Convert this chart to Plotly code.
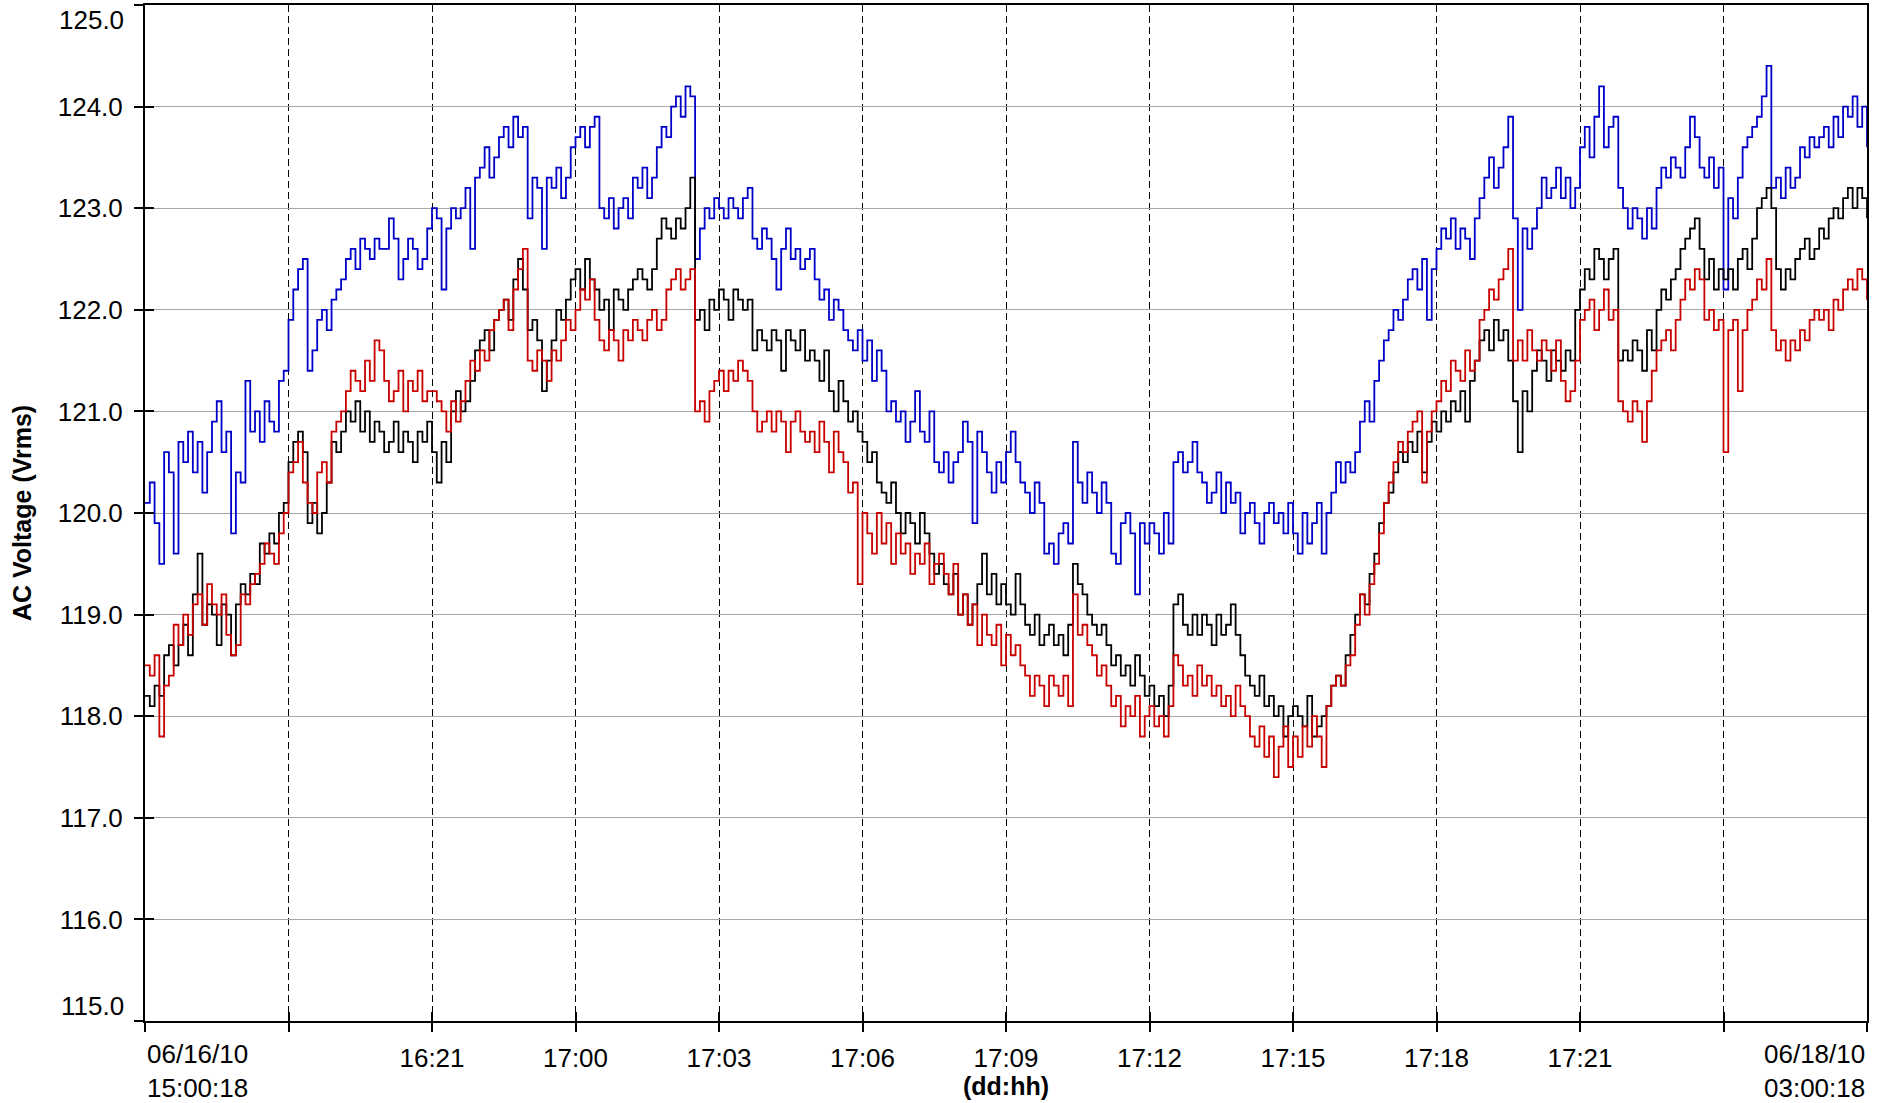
import pandas as pd
import plotly.graph_objects as go

START = "2010-06-16 15:00:18"
END = "2010-06-18 03:00:18"
STEP = "6min"

# Phase voltages (Vrms), one row per hour, samples every 6 minutes
BLUE = [
    120.1, 120.3, 119.9, 119.5, 120.6, 120.4, 119.6, 120.7, 120.5, 120.8,
    120.4, 120.7, 120.2, 120.6, 120.9, 121.1, 120.6, 120.8, 119.8, 120.4,
    120.3, 121.3, 120.8, 121.0, 120.7, 121.1, 120.9, 120.8, 121.3, 121.4,
    121.9, 122.2, 122.4, 122.5, 121.4, 121.6, 121.9, 122.0, 121.8, 122.1,
    122.2, 122.3, 122.5, 122.6, 122.4, 122.7, 122.6, 122.5, 122.7, 122.6,
    122.6, 122.9, 122.7, 122.3, 122.5, 122.7, 122.6, 122.4, 122.5, 122.8,
    123.0, 122.9, 122.2, 122.8, 123.0, 122.9, 123.0, 123.2, 122.6, 123.3,
    123.4, 123.6, 123.3, 123.5, 123.7, 123.8, 123.6, 123.9, 123.7, 123.8,
    122.9, 123.3, 123.2, 122.6, 123.3, 123.2, 123.4, 123.1, 123.3, 123.6,
    123.7, 123.8, 123.6, 123.8, 123.9, 123.0, 122.9, 123.1, 122.8, 123.0,
    123.1, 122.9, 123.3, 123.2, 123.4, 123.1, 123.3, 123.6, 123.8, 123.7,
    124.0, 124.1, 123.9, 124.2, 124.1, 122.5, 122.8, 123.0, 122.9, 123.1,
    123.0, 122.9, 123.1, 123.0, 122.9, 123.1, 123.2, 122.7, 122.6, 122.8,
    122.7, 122.5, 122.2, 122.6, 122.8, 122.5, 122.6, 122.4, 122.5, 122.6,
    122.3, 122.1, 122.2, 121.9, 122.1, 122.0, 121.8, 121.7, 121.6, 121.8,
    121.5, 121.7, 121.3, 121.6, 121.4, 121.0, 121.1, 120.9, 121.0, 120.7,
    120.9, 121.2, 120.8, 120.7, 121.0, 120.5, 120.4, 120.6, 120.3, 120.5,
    120.6, 120.9, 120.7, 119.9, 120.8, 120.6, 120.4, 120.2, 120.5, 120.3,
    120.6, 120.8, 120.5, 120.3, 120.2, 120.0, 120.3, 120.1, 119.6, 119.7,
    119.5, 119.8, 119.9, 119.7, 120.7, 120.3, 120.1, 120.4, 120.2, 120.0,
    120.3, 120.1, 119.6, 119.5, 119.9, 120.0, 119.8, 119.2, 119.9, 119.7,
    119.9, 119.8, 119.6, 120.0, 119.7, 120.5, 120.6, 120.4, 120.5, 120.7,
    120.4, 120.3, 120.1, 120.2, 120.4, 120.0, 120.3, 120.1, 120.2, 119.8,
    120.0, 120.1, 119.9, 119.7, 120.0, 120.1, 119.9, 120.0, 119.8, 120.1,
    119.8, 119.6, 120.0, 119.7, 119.9, 120.1, 119.6, 120.0, 120.2, 120.5,
    120.3, 120.5, 120.4, 120.6, 120.9, 121.1, 120.9, 121.3, 121.5, 121.7,
    121.8, 122.0, 121.9, 122.1, 122.3, 122.4, 122.2, 122.5, 121.9, 122.4,
    122.6, 122.8, 122.7, 122.9, 122.6, 122.8, 122.7, 122.5, 122.9, 123.1,
    123.3, 123.5, 123.2, 123.4, 123.6, 123.9, 122.9, 122.0, 122.8, 122.6,
    122.8, 123.0, 123.3, 123.1, 123.2, 123.4, 123.1, 123.3, 123.0, 123.2,
    123.6, 123.8, 123.5, 123.9, 124.2, 123.6, 123.8, 123.9, 123.2, 123.0,
    122.8, 123.0, 122.9, 122.7, 123.0, 122.8, 123.2, 123.4, 123.3, 123.5,
    123.4, 123.3, 123.6, 123.9, 123.7, 123.4, 123.3, 123.5, 123.2, 123.4,
    122.2, 123.1, 122.9, 123.3, 123.6, 123.7, 123.8, 123.9, 124.1, 124.4,
    123.2, 123.3, 123.1, 123.4, 123.2, 123.3, 123.6, 123.5, 123.7, 123.6,
    123.7, 123.8, 123.6, 123.9, 123.7, 124.0, 123.9, 124.1, 123.8, 124.0,
    123.6,
]

BLACK = [
    118.2, 118.1, 118.3, 118.2, 118.6, 118.7, 118.5, 118.7, 118.9, 118.6,
    119.2, 119.6, 118.9, 119.1, 119.0, 118.7, 119.1, 119.0, 118.6, 119.1,
    119.3, 119.2, 119.4, 119.3, 119.7, 119.6, 119.8, 119.7, 120.0, 120.1,
    120.5, 120.7, 120.8, 120.6, 119.9, 120.1, 119.8, 120.0, 120.3, 120.7,
    120.6, 120.8, 121.0, 120.9, 121.1, 120.8, 121.0, 120.7, 120.9, 120.8,
    120.6, 120.7, 120.9, 120.6, 120.8, 120.7, 120.5, 120.8, 120.7, 120.9,
    120.6, 120.3, 120.7, 120.5, 121.0, 121.2, 121.0, 121.1, 121.3, 121.6,
    121.7, 121.8, 121.6, 121.9, 122.0, 122.1, 121.9, 122.3, 122.5, 122.2,
    121.8, 121.9, 121.7, 121.2, 121.5, 121.7, 122.0, 121.9, 122.1, 122.3,
    122.4, 122.2, 122.5, 122.3, 122.2, 122.0, 122.1, 121.8, 122.2, 122.1,
    122.0, 122.2, 122.3, 122.4, 122.3, 122.2, 122.4, 122.7, 122.9, 122.8,
    122.7, 122.9, 122.8, 123.0, 123.3, 121.9, 122.0, 121.8, 122.1, 122.0,
    122.2, 122.1, 121.9, 122.2, 122.1, 122.0, 122.1, 121.6, 121.8, 121.7,
    121.6, 121.8, 121.7, 121.4, 121.8, 121.7, 121.6, 121.8, 121.5, 121.6,
    121.5, 121.3, 121.6, 121.2, 121.0, 121.3, 121.1, 120.9, 121.0, 120.8,
    120.7, 120.5, 120.6, 120.3, 120.2, 120.1, 120.3, 120.0, 119.8, 120.0,
    119.9, 119.7, 120.0, 119.8, 119.6, 119.4, 119.5, 119.3, 119.2, 119.4,
    119.0, 119.2, 118.9, 119.1, 119.3, 119.6, 119.2, 119.4, 119.1, 119.3,
    119.1, 119.0, 119.4, 119.1, 118.9, 118.8, 119.0, 118.7, 118.8, 118.9,
    118.7, 118.8, 118.6, 118.9, 119.5, 119.3, 119.2, 119.0, 118.9, 118.8,
    118.9, 118.7, 118.5, 118.6, 118.4, 118.5, 118.3, 118.6, 118.4, 118.2,
    118.3, 118.1, 118.2, 118.0, 118.3, 119.1, 119.2, 118.9, 118.8, 119.0,
    118.8, 119.0, 118.9, 118.7, 119.0, 118.8, 118.9, 119.1, 118.8, 118.6,
    118.4, 118.3, 118.2, 118.4, 118.1, 118.2, 118.0, 118.1, 117.8, 118.0,
    118.1, 118.0, 117.9, 118.2, 117.8, 117.9, 118.0, 118.1, 118.3, 118.4,
    118.3, 118.6, 118.8, 119.0, 119.2, 119.1, 119.4, 119.6, 119.9, 120.1,
    120.2, 120.4, 120.6, 120.5, 120.7, 120.6, 120.8, 120.4, 120.7, 120.9,
    120.8, 121.0, 120.9, 121.1, 121.0, 121.2, 120.9, 121.3, 121.5, 121.7,
    121.8, 121.6, 121.9, 121.7, 121.8, 121.5, 121.1, 120.6, 121.2, 121.0,
    121.4, 121.6, 121.5, 121.3, 121.6, 121.5, 121.4, 121.6, 121.5, 122.0,
    122.2, 122.4, 122.3, 122.6, 122.5, 122.3, 122.5, 122.6, 121.5, 121.6,
    121.5, 121.7, 121.6, 121.4, 121.8, 121.6, 122.0, 122.2, 122.1, 122.3,
    122.4, 122.6, 122.7, 122.8, 122.9, 122.6, 122.3, 122.5, 122.2, 122.4,
    122.3, 122.4, 122.2, 122.5, 122.6, 122.4, 122.7, 123.0, 123.1, 123.2,
    123.0, 122.4, 122.2, 122.4, 122.3, 122.5, 122.6, 122.7, 122.5, 122.6,
    122.8, 122.7, 122.9, 123.0, 122.9, 123.1, 123.2, 123.0, 123.2, 123.1,
    122.9,
]

RED = [
    118.5, 118.4, 118.6, 117.8, 118.3, 118.4, 118.9, 118.7, 119.0, 118.8,
    119.1, 119.2, 118.9, 119.3, 119.1, 119.0, 119.2, 118.8, 118.6, 118.7,
    119.2, 119.1, 119.3, 119.4, 119.5, 119.7, 119.6, 119.5, 119.8, 120.0,
    120.4, 120.5, 120.7, 120.3, 120.1, 120.0, 120.4, 120.5, 120.3, 120.8,
    120.9, 121.0, 121.2, 121.4, 121.3, 121.2, 121.5, 121.3, 121.7, 121.6,
    121.3, 121.1, 121.2, 121.4, 121.0, 121.3, 121.2, 121.4, 121.1, 121.2,
    121.2, 121.1, 121.0, 120.8, 121.1, 120.9, 121.1, 121.3, 121.5, 121.4,
    121.6, 121.5, 121.8, 121.9, 122.0, 122.1, 121.8, 122.2, 122.4, 122.6,
    121.5, 121.4, 121.6, 121.5, 121.3, 121.6, 121.5, 121.7, 121.9, 121.8,
    122.0, 122.2, 122.1, 122.3, 121.9, 121.7, 121.6, 121.8, 121.7, 121.5,
    121.8, 121.7, 121.9, 121.8, 121.7, 121.9, 122.0, 121.8, 121.9, 122.2,
    122.3, 122.4, 122.2, 122.3, 122.4, 121.0, 121.1, 120.9, 121.2, 121.3,
    121.4, 121.2, 121.4, 121.3, 121.5, 121.4, 121.3, 121.0, 120.8, 120.9,
    121.0, 120.8, 121.0, 120.9, 120.6, 120.9, 121.0, 120.8, 120.7, 120.8,
    120.6, 120.9, 120.7, 120.4, 120.8, 120.6, 120.5, 120.2, 120.3, 119.3,
    120.0, 119.8, 119.6, 120.0, 119.7, 119.9, 119.5, 119.8, 119.6, 119.7,
    119.4, 119.6, 119.5, 119.7, 119.3, 119.5, 119.6, 119.4, 119.2, 119.5,
    119.0, 119.2, 118.9, 119.1, 118.7, 119.0, 118.8, 118.7, 118.9, 118.5,
    118.8, 118.6, 118.7, 118.5, 118.4, 118.2, 118.4, 118.3, 118.1, 118.4,
    118.3, 118.2, 118.4, 118.1, 119.2, 118.8, 118.9, 118.7, 118.6, 118.4,
    118.5, 118.3, 118.1, 118.2, 117.9, 118.1, 118.0, 118.2, 117.8, 118.0,
    118.1, 117.9, 118.0, 117.8, 118.1, 118.6, 118.5, 118.3, 118.4, 118.2,
    118.5, 118.3, 118.4, 118.2, 118.3, 118.1, 118.2, 118.0, 118.3, 118.1,
    118.0, 117.8, 117.7, 117.9, 117.6, 117.8, 117.4, 117.7, 117.9, 117.5,
    117.8, 117.6, 117.9, 117.7, 118.0, 117.8, 117.5, 118.1, 118.3, 118.4,
    118.3, 118.5, 118.6, 118.9, 119.2, 119.0, 119.3, 119.5, 119.8, 120.1,
    120.3, 120.5, 120.7, 120.6, 120.8, 120.9, 121.0, 120.3, 120.8, 121.0,
    121.1, 121.3, 121.2, 121.5, 121.4, 121.3, 121.6, 121.4, 121.5, 121.9,
    122.0, 122.2, 122.1, 122.3, 122.4, 122.6, 121.5, 121.7, 121.5, 121.8,
    121.6, 121.5, 121.7, 121.6, 121.4, 121.7, 121.3, 121.1, 121.2, 121.5,
    121.9, 122.0, 122.1, 121.8, 122.0, 122.2, 121.9, 122.0, 121.1, 121.0,
    120.9, 121.1, 121.0, 120.7, 121.1, 121.4, 121.6, 121.7, 121.8, 121.6,
    121.9, 122.1, 122.3, 122.2, 122.4, 122.3, 121.9, 122.0, 121.8, 121.9,
    120.6, 121.8, 121.9, 121.2, 121.8, 122.0, 122.1, 122.3, 122.2, 122.5,
    121.8, 121.6, 121.7, 121.5, 121.7, 121.6, 121.8, 121.7, 121.9, 122.0,
    121.9, 122.0, 121.8, 122.1, 122.0, 122.2, 122.3, 122.2, 122.4, 122.3,
    122.1,
]

TICK_TEXT = ["", "", "16:21", "17:00", "17:03", "17:06", "17:09", "17:12",
             "17:15", "17:18", "17:21", "", ""]
FIRST_LABEL = "06/16/10<br>15:00:18"
LAST_LABEL = "06/18/10<br>03:00:18"
Y_TICKS = [115, 116, 117, 118, 119, 120, 121, 122, 123, 124, 125]
Y_TICK_TEXT = [f"{v:.1f}" for v in Y_TICKS]
# the end labels are nudged inward (drawn as annotations below)
Y_AXIS_TEXT = [""] + Y_TICK_TEXT[1:-1] + [""]

times = pd.date_range(START, periods=len(BLUE), freq=STEP)
tick_vals = pd.date_range(START, END, freq="3h")

FONT = "Liberation Sans, Arial, sans-serif"

fig = go.Figure()
for vals, col in [(BLUE, "#0000C8"), (BLACK, "#000000"), (RED, "#C80000")]:
    fig.add_trace(go.Scatter(x=times, y=vals, mode="lines",
                             line=dict(color=col, width=1.8, shape="hv"),
                             showlegend=False, hoverinfo="skip"))
# dummy trace for the overlay axes (inside tick halves)
fig.add_trace(go.Scatter(x=[times[0]], y=[None], xaxis="x2", yaxis="y2",
                         mode="lines", showlegend=False, hoverinfo="skip"))

common_x = dict(type="date", range=[START, END], tickmode="array",
                tickvals=tick_vals, automargin=False)
common_y = dict(range=[115, 125], tickmode="array", tickvals=Y_TICKS,
                automargin=False)

fig.update_layout(
    width=1879, height=1103,
    margin=dict(l=145, r=12, t=5, b=82),
    paper_bgcolor="white", plot_bgcolor="white",
    font=dict(family=FONT, size=26, color="black"),
    xaxis=dict(**common_x, ticktext=TICK_TEXT, showgrid=True, gridcolor="black",
               gridwidth=1, griddash="7px,4px", showline=True, linecolor="black",
               linewidth=2, mirror=True, ticks="outside", ticklen=9,
               tickwidth=2, tickcolor="black", ticklabelstandoff=4,
               ticklabeloverflow="allow",
               zeroline=False, tickfont=dict(size=26)),
    yaxis=dict(**common_y, ticktext=Y_AXIS_TEXT, showgrid=True,
               gridcolor="#a8a8a8", gridwidth=1, showline=True,
               linecolor="black", linewidth=2, mirror=True, ticks="outside",
               ticklen=9, tickwidth=2, tickcolor="black", ticklabelstandoff=6,
               ticklabeloverflow="allow",
               zeroline=False, tickfont=dict(size=26)),
    xaxis2=dict(**common_x, overlaying="x", side="bottom", showgrid=False,
                showline=False, showticklabels=False, ticks="inside",
                ticklen=9, tickwidth=2, tickcolor="black", zeroline=False),
    yaxis2=dict(**common_y, overlaying="y", side="left", showgrid=False,
                showline=False, showticklabels=False, ticks="inside",
                ticklen=9, tickwidth=2, tickcolor="black", zeroline=False),
    annotations=[
        dict(text=Y_TICK_TEXT[-1], xref="paper", yref="paper", x=0, y=0.9855,
             xanchor="right", yanchor="middle", xshift=-19, showarrow=False,
             font=dict(size=26)),
        dict(text=Y_TICK_TEXT[0], xref="paper", yref="paper", x=0, y=0.015,
             xanchor="right", yanchor="middle", xshift=-19, showarrow=False,
             font=dict(size=26)),
        dict(text=FIRST_LABEL, xref="paper", yref="paper", x=0, y=-0.016,
             xanchor="left", yanchor="top", showarrow=False, align="left",
             font=dict(size=26)),
        dict(text=LAST_LABEL, xref="paper", yref="paper", x=1, y=-0.016,
             xanchor="right", yanchor="top", showarrow=False, align="right",
             font=dict(size=26)),
        dict(text="<b>(dd:hh)</b>", xref="paper", yref="paper", x=0.5,
             y=-0.064, xanchor="center", yanchor="middle", showarrow=False,
             font=dict(size=25)),
        dict(text="<b>AC Voltage (Vrms)</b>", xref="paper", yref="paper",
             x=-0.0714, y=0.5, xanchor="center", yanchor="middle",
             textangle=-90, showarrow=False, font=dict(size=25)),
    ],
)

fig.write_html("out.html",
               config={"displayModeBar": False},
               post_script="document.body.style.margin='0';"
                           "document.body.style.overflow='hidden';")
